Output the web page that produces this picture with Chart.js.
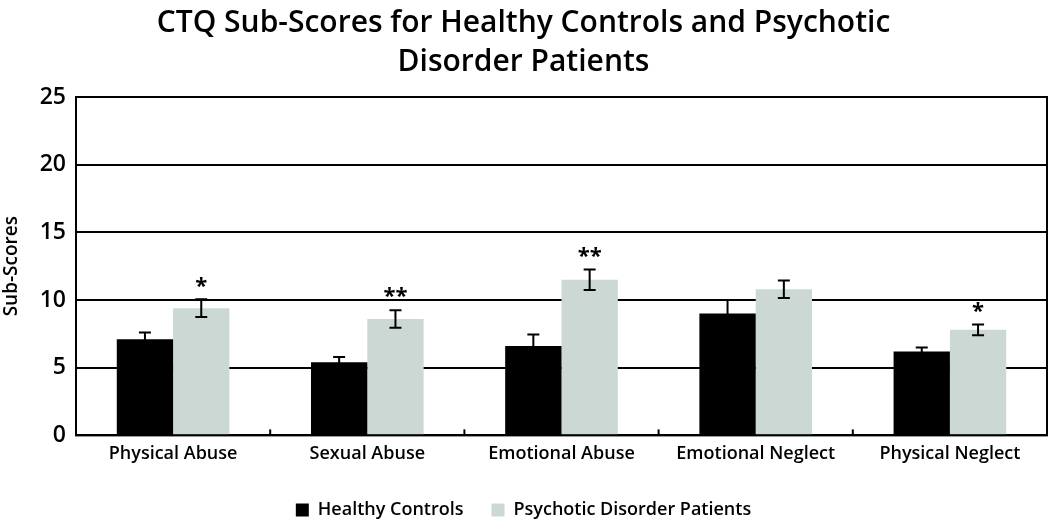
<!DOCTYPE html>
<html>
<head>
<meta charset="utf-8">
<script src="https://cdn.jsdelivr.net/npm/chart.js@4.4.1/dist/chart.umd.min.js"></script>
<style>
  html, body { margin: 0; padding: 0; background: #fff; }
  #wrap { width: 1050px; height: 519px; }
</style>
</head>
<body>
<div id="wrap"><canvas id="ctqChart"></canvas></div>
<script>
var categories = ["Physical Abuse", "Sexual Abuse", "Emotional Abuse", "Emotional Neglect", "Physical Neglect"];
var controlMeans = [7.1, 5.4, 6.6, 9.0, 6.2];
var controlErr = [0.5, 0.4, 0.85, 1.0, 0.3];
var patientMeans = [9.4, 8.6, 11.5, 10.8, 7.8];
var patientErr = [0.65, 0.65, 0.75, 0.65, 0.4];
var stars = ["*", "**", "**", "", "*"];
var yTicks = [0, 5, 10, 15, 20, 25];

var FONT = "'Open Sans', 'DejaVu Sans', sans-serif";

// error bars, significance stars, inner x ticks, frame
var extras = {
  id: "extras",
  afterDatasetsDraw: function (chart) {
    var ctx = chart.ctx;
    var y = chart.scales.y;
    var x = chart.scales.x;
    var area = chart.chartArea;
    var errs = [controlErr, patientErr];
    var means = [controlMeans, patientMeans];
    ctx.save();
    ctx.strokeStyle = "#000";
    ctx.lineWidth = 2;
    for (var d = 0; d < 2; d++) {
      var meta = chart.getDatasetMeta(d);
      meta.data.forEach(function (bar, i) {
        var top = y.getPixelForValue(means[d][i] + errs[d][i]);
        var bot = y.getPixelForValue(means[d][i] - errs[d][i]);
        ctx.beginPath();
        ctx.moveTo(bar.x, top);
        ctx.lineTo(bar.x, bot);
        ctx.moveTo(bar.x - 6, top);
        ctx.lineTo(bar.x + 6, top);
        ctx.moveTo(bar.x - 6, bot);
        ctx.lineTo(bar.x + 6, bot);
        ctx.stroke();
        if (d === 1 && stars[i]) {
          ctx.fillStyle = "#000";
          ctx.font = "bold 22px " + FONT;
          ctx.textAlign = "center";
          ctx.textBaseline = "bottom";
          ctx.fillText(stars[i], bar.x, top - 2);
        }
      });
    }
    for (var i = 0; i < categories.length - 1; i++) {
      var bx = (x.getPixelForValue(i) + x.getPixelForValue(i + 1)) / 2;
      ctx.beginPath();
      ctx.moveTo(bx, area.bottom);
      ctx.lineTo(bx, area.bottom - 6);
      ctx.stroke();
    }
    ctx.strokeRect(area.left, area.top, area.right - area.left, area.bottom - area.top);
    ctx.restore();
  }
};

document.addEventListener("DOMContentLoaded", function () {
  var ctx = document.getElementById("ctqChart").getContext("2d");
  new Chart(ctx, {
    type: "bar",
    data: {
      labels: categories,
      datasets: [
        {
          label: "Healthy Controls",
          data: controlMeans,
          backgroundColor: "#000000",
          categoryPercentage: 0.58,
          barPercentage: 1.0
        },
        {
          label: "Psychotic Disorder Patients",
          data: patientMeans,
          backgroundColor: "#cbd8d4",
          categoryPercentage: 0.58,
          barPercentage: 1.0
        }
      ]
    },
    options: {
      responsive: true,
      maintainAspectRatio: false,
      animation: false,
      layout: { padding: { left: 0, right: 3, top: 2, bottom: -10 } },
      plugins: {
        title: {
          display: true,
          text: ["CTQ Sub-Scores for Healthy Controls and Psychotic", "Disorder Patients"],
          color: "#000",
          font: { family: FONT, size: 30, weight: "600", lineHeight: 1.3 },
          padding: { top: 2, bottom: 15 }
        },
        legend: {
          position: "bottom",
          labels: {
            color: "#000",
            font: { family: FONT, size: 18, weight: "600" },
            boxWidth: 13,
            boxHeight: 13,
            padding: 28
          }
        },
        tooltip: { enabled: false }
      },
      scales: {
        x: {
          grid: { display: false, drawTicks: false },
          border: { display: true, color: "#000", width: 2 },
          ticks: { color: "#000", font: { family: FONT, size: 18, weight: "600" }, padding: 8, maxRotation: 0 }
        },
        y: {
          min: 0,
          max: 25,
          afterBuildTicks: function (scale) {
            scale.ticks = yTicks.map(function (v) { return { value: v }; });
          },
          afterFit: function (scale) { scale.width = 76; },
          grid: { color: "#000", lineWidth: 2, drawTicks: false },
          border: { display: true, color: "#000", width: 2 },
          ticks: { color: "#000", font: { family: FONT, size: 23, weight: "600" }, padding: 10 },
          title: {
            display: true,
            text: "Sub-Scores",
            color: "#000",
            font: { family: FONT, size: 19, weight: "600" },
            padding: { top: 0, bottom: 6 }
          }
        }
      }
    },
    plugins: [extras]
  });
});
</script>
</body>
</html>
